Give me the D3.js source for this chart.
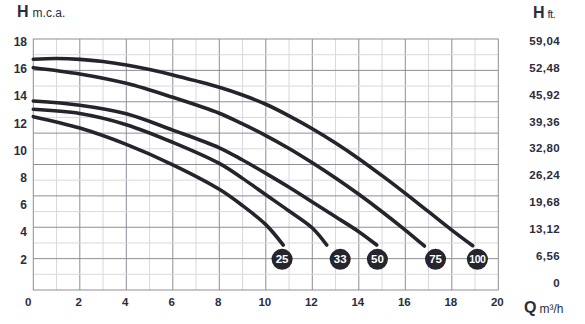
<!DOCTYPE html>
<html><head><meta charset="utf-8">
<script src="https://cdn.jsdelivr.net/npm/d3@7/dist/d3.min.js"></script>
<style>
html,body{margin:0;padding:0;background:#fff;}
svg{display:block;font-family:"Liberation Sans",Arial,sans-serif;}
</style></head>
<body>
<svg id="chart" width="585" height="324"></svg>
<script>
// ---- data ----
const seriesNames = ["25", "33", "50", "75", "100"];
const q25  = [0, 2, 4, 6, 8, 9, 10, 10.75];
const h25  = [12.49, 11.65, 10.45, 8.95, 7.15, 5.95, 4.55, 3.05];
const q33  = [0, 2, 4, 6, 8, 9, 10, 11, 12, 12.62];
const h33  = [13.03, 12.72, 11.9, 10.6, 9.05, 7.95, 6.75, 5.55, 4.3, 3.05];
const q50  = [0, 2, 4, 6, 8, 9, 10, 11, 12, 13, 14, 14.77];
const h50  = [13.64, 13.33, 12.7, 11.5, 10.2, 9.3, 8.32, 7.3, 6.22, 5.13, 4.03, 3.05];
const q75  = [0, 2, 4, 6, 8, 9, 10, 11, 12, 13, 14, 15, 16, 16.82];
const h75  = [16.09, 15.63, 14.94, 13.91, 12.74, 11.95, 11.1, 10.15, 9.1, 7.98, 6.78, 5.5, 4.15, 2.98];
const q100 = [0, 1, 2, 3, 4, 5, 6, 7, 8, 9, 10, 11, 12, 13, 14, 15, 16, 17, 18, 18.9];
const h100 = [16.71, 16.76, 16.7, 16.54, 16.28, 15.95, 15.56, 15.12, 14.65, 14.08, 13.4, 12.55, 11.6, 10.55, 9.4, 8.15, 6.85, 5.5, 4.15, 3.0];
const labelQ = [10.7, 13.2, 14.8, 17.3, 19.1];
const labelH = [2, 2, 2, 2, 2];
const leftTicks = [2, 4, 6, 8, 10, 12, 14, 16, 18];
const xTicks = [0, 2, 4, 6, 8, 10, 12, 14, 16, 18, 20];
const rightTickValues = [0, 6.56, 13.12, 19.68, 26.24, 32.80, 39.36, 45.92, 52.48, 59.04];
const rightTickLabels = ["0", "6,56", "13,12", "19,68", "26,24", "32,80", "39,36", "45,92", "52,48", "59,04"];

const seriesQ = [q25, q33, q50, q75, q100];
const seriesH = [h25, h33, h50, h75, h100];

// ---- scales ----
const svg = d3.select("#chart");
const x = d3.scaleLinear().domain([0, 20]).range([33.3, 498.3]);
const y = d3.scaleLinear().domain([0, 18]).range([286.5, 41.7]);
const yFt = d3.scaleLinear().domain([0, 59.04]).range([282.7, 40.7]);
const gridY = d3.scaleLinear().domain([0, 16]).range([290, 39]);

const textColor = "#2b2d3c";
const minorC = "#d8d8e0", majorC = "#8e8e99";

// grid
const g = svg.append("g");
d3.range(1, 20).forEach(i => {
  g.append("line").attr("x1", x(i)).attr("x2", x(i)).attr("y1", gridY(0)).attr("y2", gridY(16))
    .attr("stroke", i % 2 ? minorC : majorC).attr("stroke-width", 1);
});
d3.range(1, 16).forEach(i => {
  g.append("line").attr("x1", x(0)).attr("x2", x(20)).attr("y1", gridY(i)).attr("y2", gridY(i))
    .attr("stroke", i % 2 ? minorC : majorC).attr("stroke-width", 1);
});
g.append("rect").attr("x", x(0)).attr("y", gridY(16)).attr("width", x(20) - x(0)).attr("height", gridY(0) - gridY(16))
  .attr("fill", "none").attr("stroke", majorC).attr("stroke-width", 1);

// curves
const line = d3.line().x(d => x(d[0])).y(d => y(d[1])).curve(d3.curveCatmullRom.alpha(0.5));
seriesQ.forEach((qs, k) => {
  const pts = qs.map((q, i) => [q, seriesH[k][i]]);
  svg.append("path").attr("d", line(pts)).attr("fill", "none")
    .attr("stroke", "#24242c").attr("stroke-width", 3.6).attr("stroke-linecap", "round");
});

// badges
seriesNames.forEach((n, k) => {
  svg.append("circle").attr("cx", x(labelQ[k])).attr("cy", y(labelH[k])).attr("r", 10.5).attr("fill", "#25252e");
  svg.append("text").attr("x", x(labelQ[k])).attr("y", y(labelH[k]) + 4)
    .attr("text-anchor", "middle").attr("fill", "#fff").attr("font-weight", "bold")
    .attr("font-size", n.length > 2 ? 10.5 : 11.5).attr("letter-spacing", n.length > 2 ? -0.5 : 0).text(n);
});

// left ticks
leftTicks.forEach(t => {
  svg.append("text").attr("x", 27).attr("y", y(t) + 4.2).attr("text-anchor", "end")
    .attr("font-size", 12).attr("font-weight", "bold").attr("fill", textColor).text(t);
});
// x ticks
xTicks.forEach((t, i) => {
  svg.append("text").attr("x", x(t) - (i === 0 ? 5 : 1)).attr("y", 305.5).attr("text-anchor", "middle")
    .attr("font-size", 11.5).attr("font-weight", "bold").attr("fill", textColor).text(t);
});
// right ticks
rightTickValues.forEach((v, i) => {
  svg.append("text").attr("x", 560).attr("y", yFt(v) + 4.2).attr("text-anchor", "end")
    .attr("font-size", 11.5).attr("font-weight", "bold").attr("letter-spacing", 0.4).attr("fill", textColor).text(rightTickLabels[i]);
});

// axis titles
const t1 = svg.append("text").attr("x", 17).attr("y", 17).attr("fill", textColor);
t1.append("tspan").attr("font-size", 16).attr("font-weight", "bold").text("H");
t1.append("tspan").attr("dx", 4).attr("font-size", 12).text("m.c.a.");
const t2 = svg.append("text").attr("x", 533).attr("y", 17.5).attr("fill", textColor);
t2.append("tspan").attr("font-size", 16).attr("font-weight", "bold").text("H");
t2.append("tspan").attr("dx", 3).attr("font-size", 11).attr("letter-spacing", -0.5).text("ft.");
const t3 = svg.append("text").attr("x", 524).attr("y", 312.5).attr("fill", textColor);
t3.append("tspan").attr("font-size", 16).attr("font-weight", "bold").text("Q");
t3.append("tspan").attr("dx", 3).attr("font-size", 12).text("m³/h");
</script>
</body></html>
